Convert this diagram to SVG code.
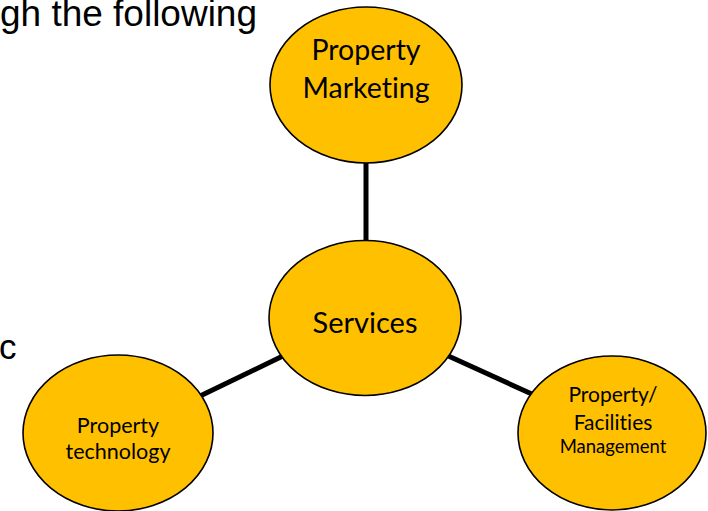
<svg xmlns="http://www.w3.org/2000/svg" width="708" height="511" viewBox="0 0 708 511">
<style>
.node{fill:#FFC000;stroke:#000;stroke-width:1.6}
.lbl{font-family:Lato,"Open Sans",sans-serif;fill:#000;text-anchor:middle;font-variant-ligatures:none}
.para{font-family:"Liberation Sans",Arial,sans-serif;fill:#000}
.conn{stroke:#000;stroke-width:5;fill:none}
</style>
<rect width="708" height="511" fill="#fff"/>
<text class="para" x="0" y="25.5" font-size="36" textLength="257" lengthAdjust="spacingAndGlyphs">gh the following</text>
<text class="para" x="-1" y="359" font-size="35">c</text>
<g id="connectors">
<line class="conn" x1="366" y1="160" x2="366" y2="243"/>
<line class="conn" x1="198" y1="397" x2="287" y2="354"/>
<line class="conn" x1="444" y1="354" x2="534" y2="395"/>
</g>
<g id="marketing">
<ellipse class="node" cx="366" cy="85" rx="96" ry="78"/>
<text class="lbl" x="366" y="60" font-size="28.5">Property</text>
<text class="lbl" x="366" y="98" font-size="28.5">Marketing</text>
</g>
<g id="services">
<ellipse class="node" cx="365" cy="318" rx="96" ry="77.5"/>
<text class="lbl" x="365" y="333" font-size="29">Services</text>
</g>
<g id="technology">
<ellipse class="node" cx="118" cy="433" rx="95" ry="78"/>
<text class="lbl" x="118" y="433" font-size="21.5">Property</text>
<text class="lbl" x="118" y="459" font-size="21.5">technology</text>
</g>
<g id="facilities">
<ellipse class="node" cx="612" cy="433" rx="94" ry="77"/>
<text class="lbl" x="613" y="402" font-size="21">Property/</text>
<text class="lbl" x="613" y="430" font-size="21">Facilities</text>
<text class="lbl" x="613" y="453" font-size="18.5">Management</text>
</g>
</svg>
